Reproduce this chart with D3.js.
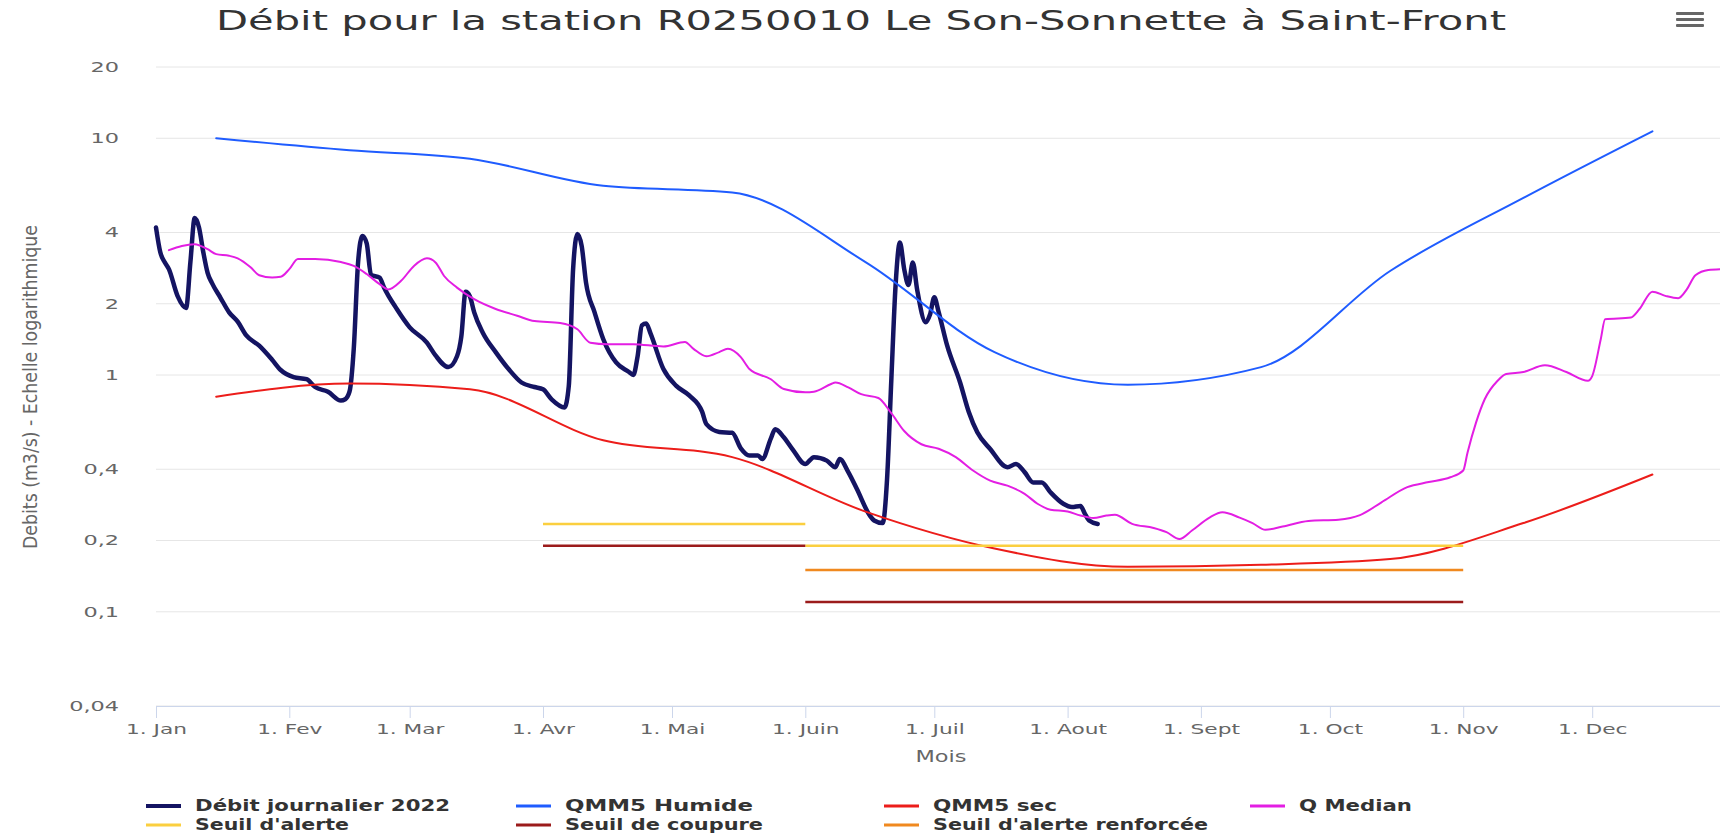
<!DOCTYPE html>
<html>
<head>
<meta charset="utf-8">
<script src="https://cdn.jsdelivr.net/npm/d3@7"></script>
<style>
  body { margin: 0; background: #fff; }
  svg { display: block; font-family: "DejaVu Sans", sans-serif; }
</style>
</head>
<body>
<svg id="chart" width="1720" height="836"></svg>
<script>
// ---------------- DATA ----------------
const titleText = "Débit pour la station R0250010 Le Son-Sonnette à Saint-Front";
const yAxisTitle = "Debits (m3/s) - Echelle logarithmique";
const xAxisTitle = "Mois";

const monthTicks = ["2022-01-01","2022-02-01","2022-03-01","2022-04-01","2022-05-01","2022-06-01",
                    "2022-07-01","2022-08-01","2022-09-01","2022-10-01","2022-11-01","2022-12-01"];
const monthLabels = ["1. Jan","1. Fev","1. Mar","1. Avr","1. Mai","1. Juin",
                     "1. Juil","1. Aout","1. Sept","1. Oct","1. Nov","1. Dec"];
const yTicks = [0.04, 0.1, 0.2, 0.4, 1, 2, 4, 10, 20];

// Débit journalier 2022
const debitDates = ["2022-01-01","2022-01-02","2022-01-03","2022-01-04","2022-01-06","2022-01-08","2022-01-09","2022-01-10",
  "2022-01-11","2022-01-12","2022-01-13","2022-01-14","2022-01-16","2022-01-18","2022-01-20","2022-01-22","2022-01-25",
  "2022-01-28","2022-01-30","2022-02-02","2022-02-05","2022-02-07","2022-02-10","2022-02-13","2022-02-14","2022-02-15",
  "2022-02-16","2022-02-17","2022-02-18","2022-02-19","2022-02-20","2022-02-22","2022-02-23","2022-02-26","2022-03-01",
  "2022-03-05","2022-03-07","2022-03-10","2022-03-12","2022-03-13","2022-03-14","2022-03-15","2022-03-16","2022-03-18",
  "2022-03-21","2022-03-24","2022-03-27","2022-03-30","2022-04-01","2022-04-03","2022-04-06","2022-04-07","2022-04-08",
  "2022-04-09","2022-04-10","2022-04-11","2022-04-13","2022-04-15","2022-04-18","2022-04-21","2022-04-22","2022-04-23",
  "2022-04-24","2022-04-25","2022-04-26","2022-04-29","2022-05-02","2022-05-05","2022-05-08","2022-05-09","2022-05-12",
  "2022-05-15","2022-05-17","2022-05-19","2022-05-21","2022-05-22","2022-05-24","2022-05-25","2022-05-27","2022-05-29",
  "2022-06-01","2022-06-03","2022-06-06","2022-06-08","2022-06-09","2022-06-11","2022-06-13","2022-06-16","2022-06-17",
  "2022-06-19","2022-06-20","2022-06-21","2022-06-22","2022-06-23","2022-06-24","2022-06-25","2022-06-26","2022-06-27",
  "2022-06-29","2022-06-30","2022-07-01","2022-07-02","2022-07-04","2022-07-07","2022-07-09","2022-07-11","2022-07-14",
  "2022-07-18","2022-07-20","2022-07-22","2022-07-24","2022-07-26","2022-07-28","2022-07-31","2022-08-02","2022-08-04",
  "2022-08-05","2022-08-06","2022-08-08"];
const debitValues = [4.2,3.3,3.0,2.8,2.16,1.92,3.0,4.6,
  4.2,3.3,2.7,2.45,2.12,1.84,1.68,1.47,1.33,
  1.16,1.05,0.98,0.96,0.89,0.85,0.78,0.79,0.85,
  1.3,3.0,3.87,3.6,2.65,2.58,2.35,1.9,1.59,
  1.37,1.21,1.08,1.2,1.45,2.25,2.15,1.84,1.51,
  1.25,1.06,0.93,0.89,0.87,0.79,0.73,0.9,2.8,
  3.94,3.5,2.46,1.84,1.42,1.13,1.03,1.0,1.2,
  1.62,1.65,1.5,1.06,0.9,0.82,0.7,0.62,0.575,
  0.57,0.49,0.457,0.457,0.442,0.54,0.59,0.546,0.487,
  0.421,0.45,0.435,0.408,0.442,0.389,0.33,0.255,0.243,
  0.237,0.36,0.95,2.4,3.63,2.8,2.4,2.99,2.3,
  1.67,1.8,2.13,1.85,1.33,0.93,0.7,0.573,0.487,
  0.408,0.421,0.389,0.352,0.352,0.32,0.286,0.277,0.28,
  0.26,0.243,0.235];

// QMM5 (mid-month values)
const qmmDates = ["2022-01-15","2022-02-15","2022-03-15","2022-04-15","2022-05-15","2022-06-15",
                  "2022-07-15","2022-08-15","2022-09-15","2022-10-15","2022-11-15","2022-12-15"];
const qmmHumideValues = [10.0, 8.9, 8.2, 6.3, 5.9, 3.0, 1.25, 0.91, 1.08, 2.75, 5.6, 10.7];
const qmmSecValues    = [0.81, 0.92, 0.87, 0.53, 0.45, 0.265, 0.185, 0.155, 0.158, 0.167, 0.237, 0.38];

// Q Median
const medianDates = ["2022-01-04","2022-01-07","2022-01-10","2022-01-13","2022-01-15","2022-01-18","2022-01-20","2022-01-23",
  "2022-01-25","2022-01-28","2022-01-30","2022-02-01","2022-02-03","2022-02-07","2022-02-13","2022-02-16","2022-02-19",
  "2022-02-22","2022-02-24","2022-02-27","2022-03-02","2022-03-05","2022-03-07","2022-03-09","2022-03-12","2022-03-16",
  "2022-03-21","2022-03-26","2022-03-30","2022-04-05","2022-04-09","2022-04-12","2022-04-16","2022-04-22","2022-04-29",
  "2022-05-04","2022-05-06","2022-05-09","2022-05-12","2022-05-14","2022-05-17","2022-05-19","2022-05-24","2022-05-27",
  "2022-06-01","2022-06-03","2022-06-07","2022-06-08","2022-06-11","2022-06-14","2022-06-18","2022-06-21","2022-06-24",
  "2022-06-28","2022-07-02","2022-07-06","2022-07-10","2022-07-14","2022-07-18","2022-07-22","2022-07-25","2022-07-28",
  "2022-08-01","2022-08-04","2022-08-07","2022-08-10","2022-08-12","2022-08-16","2022-08-21","2022-08-24","2022-08-27",
  "2022-08-30","2022-09-03","2022-09-06","2022-09-10","2022-09-13","2022-09-16","2022-09-20","2022-09-26","2022-10-03",
  "2022-10-08","2022-10-13","2022-10-19","2022-10-24","2022-10-29","2022-11-01","2022-11-02","2022-11-04","2022-11-06",
  "2022-11-09","2022-11-11","2022-11-15","2022-11-20","2022-11-25","2022-11-30","2022-12-01","2022-12-03","2022-12-04",
  "2022-12-10","2022-12-12","2022-12-15","2022-12-18","2022-12-21","2022-12-23","2022-12-25","2022-12-28","2022-12-31"];
const medianValues = [3.37,3.51,3.57,3.40,3.24,3.19,3.11,2.85,
  2.64,2.58,2.60,2.80,3.09,3.09,3.0,2.89,2.67,
  2.42,2.30,2.50,2.89,3.11,2.99,2.62,2.34,2.09,
  1.90,1.78,1.69,1.66,1.56,1.37,1.35,1.35,1.32,
  1.38,1.29,1.2,1.25,1.29,1.19,1.06,0.96,0.873,
  0.845,0.85,0.916,0.93,0.887,0.83,0.8,0.69,0.58,
  0.51,0.488,0.45,0.395,0.358,0.341,0.315,0.286,0.27,
  0.265,0.255,0.249,0.255,0.257,0.235,0.226,0.217,0.203,
  0.221,0.25,0.263,0.25,0.237,0.222,0.229,0.242,0.245,
  0.256,0.29,0.336,0.353,0.37,0.395,0.47,0.631,0.79,
  0.946,1.01,1.03,1.10,1.03,0.946,0.99,1.42,1.72,
  1.75,1.90,2.25,2.16,2.11,2.30,2.64,2.78,2.80];

// Thresholds: [start, end, value]
const seuilAlerte    = [["2022-04-01","2022-06-01",0.235],["2022-06-01","2022-11-01",0.19]];
const seuilCoupure   = [["2022-04-01","2022-06-01",0.19],["2022-06-01","2022-11-01",0.11]];
const seuilRenforcee = [["2022-06-01","2022-11-01",0.15]];

const legendNames = ["Débit journalier 2022","QMM5 Humide","QMM5 sec","Q Median",
                     "Seuil d'alerte","Seuil de coupure","Seuil d'alerte renforcée"];

// ---------------- DRAWING ----------------
const parse = d3.timeParse("%Y-%m-%d");
const svg = d3.select("#chart");
const W = 1720, H = 836;
const plot = { left: 156, top: 67, bottom: 706 };
const dayPx = 4.3;

const x = d3.scaleTime()
  .domain([parse("2022-01-01"), parse("2023-01-01")])
  .range([plot.left, plot.left + 365 * dayPx]);
const y = d3.scaleLog().domain([0.04, 20]).range([plot.bottom, plot.top]);

const colors = {
  debit: "#141462", humide: "#1f5cff", sec: "#ec1d1a", median: "#e31ee3",
  alerte: "#fbcf3f", coupure: "#9b1b1b", renforcee: "#f0891f"
};

function stretch(sel, k) {
  sel.each(function () {
    const L = this.getComputedTextLength();
    d3.select(this).attr("textLength", L * k).attr("lengthAdjust", "spacingAndGlyphs");
  });
}

// grid lines
svg.append("g").selectAll("line").data(yTicks).join("line")
  .attr("x1", plot.left).attr("x2", W)
  .attr("y1", d => y(d)).attr("y2", d => y(d))
  .attr("stroke", "#e6e6e6").attr("stroke-width", 1);

// Y axis labels
const yAxis = svg.append("g").attr("transform", `translate(${plot.left - 37},0)`)
  .call(d3.axisLeft(y).tickValues(yTicks).tickSize(0)
        .tickFormat(d => String(d).replace(".", ",")));
yAxis.select(".domain").remove();
yAxis.selectAll("text").attr("font-size", 14).attr("fill", "#666")
  .attr("font-family", "DejaVu Sans").attr("dy", "0.32em").attr("x", 0);
stretch(yAxis.selectAll("text"), 1.6);

// X axis
const xAxis = svg.append("g").attr("transform", `translate(0,${plot.bottom})`)
  .call(d3.axisBottom(x).tickValues(monthTicks.map(parse))
        .tickFormat((d, i) => monthLabels[i]).tickSizeOuter(0).tickSize(12));
xAxis.select(".domain").attr("stroke", "#ccd6eb").attr("d", `M${plot.left},0.5H${W}`);
xAxis.selectAll(".tick line").attr("stroke", "#ccd6eb");
xAxis.selectAll("text").attr("font-size", 14).attr("fill", "#666")
  .attr("font-family", "DejaVu Sans").attr("y", 18).attr("dy", "0.71em");
stretch(xAxis.selectAll("text"), 1.55);

// axis titles
const mois = svg.append("text").attr("x", 941).attr("y", 762).attr("text-anchor", "middle")
  .attr("font-size", 16).attr("fill", "#666").text(xAxisTitle);
stretch(mois, 1.4);
svg.append("text").attr("transform", "translate(30,387) rotate(-90)")
  .attr("text-anchor", "middle").attr("dy", "0.35em")
  .attr("font-size", 19).attr("fill", "#666")
  .attr("textLength", 324).attr("lengthAdjust", "spacingAndGlyphs")
  .text(yAxisTitle);

// title
svg.append("text").attr("x", 861).attr("y", 30).attr("text-anchor", "middle")
  .attr("font-size", 26).attr("fill", "#333")
  .attr("textLength", 1290).attr("lengthAdjust", "spacingAndGlyphs")
  .text(titleText);

// hamburger menu
svg.append("g").selectAll("rect").data([0, 1, 2]).join("rect")
  .attr("x", 1676).attr("y", d => 12 + d * 6).attr("width", 28).attr("height", 3)
  .attr("rx", 1).attr("fill", "#666");

// series
const line = d3.line().x(d => x(d[0])).y(d => y(d[1])).curve(d3.curveMonotoneX);
const zip = (ds, vs) => ds.map((d, i) => [parse(d), vs[i]]);

const series = svg.append("g").attr("fill", "none").attr("stroke-linejoin", "round").attr("stroke-linecap", "round");
series.append("path").attr("d", line(zip(debitDates, debitValues)))
  .attr("stroke", colors.debit).attr("stroke-width", 4.5);
series.append("path").attr("d", line(zip(qmmDates, qmmHumideValues)))
  .attr("stroke", colors.humide).attr("stroke-width", 2);
series.append("path").attr("d", line(zip(qmmDates, qmmSecValues)))
  .attr("stroke", colors.sec).attr("stroke-width", 2);
series.append("path").attr("d", line(zip(medianDates, medianValues)))
  .attr("stroke", colors.median).attr("stroke-width", 2);

function drawSeuil(segs, color) {
  series.append("g").selectAll("line").data(segs).join("line")
    .attr("x1", d => x(parse(d[0]))).attr("x2", d => x(parse(d[1])))
    .attr("y1", d => y(d[2])).attr("y2", d => y(d[2]))
    .attr("stroke", color).attr("stroke-width", 2.5).attr("stroke-linecap", "butt");
}
drawSeuil(seuilAlerte, colors.alerte);
drawSeuil(seuilCoupure, colors.coupure);
drawSeuil(seuilRenforcee, colors.renforcee);

// legend
const legendColors = [colors.debit, colors.humide, colors.sec, colors.median,
                      colors.alerte, colors.coupure, colors.renforcee];
const legendWidths = [255, 188, 124, 113, 154, 198, 275];
const colX = [146, 516, 884, 1250];
const rowY = [806, 825];
const leg = svg.append("g");
legendNames.forEach((name, i) => {
  const cx = colX[i % 4], cy = rowY[Math.floor(i / 4)];
  leg.append("line").attr("x1", cx).attr("x2", cx + 35).attr("y1", cy).attr("y2", cy)
    .attr("stroke", legendColors[i]).attr("stroke-width", i === 0 ? 4 : 3);
  leg.append("text").attr("x", cx + 49).attr("y", cy).attr("dy", "0.36em")
    .attr("font-size", 15).attr("font-weight", "bold").attr("fill", "#333")
    .attr("textLength", legendWidths[i]).attr("lengthAdjust", "spacingAndGlyphs")
    .text(name);
});
</script>
</body>
</html>
